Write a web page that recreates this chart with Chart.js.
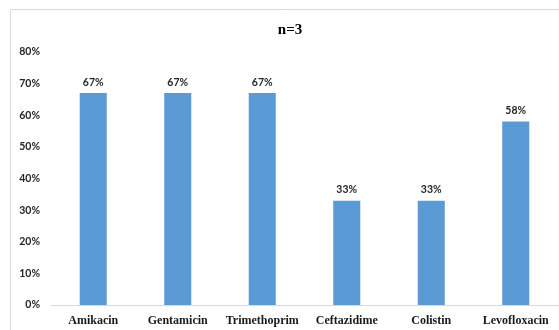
<!DOCTYPE html>
<html>
<head>
<meta charset="utf-8">
<script src="https://cdn.jsdelivr.net/npm/chart.js@4"></script>
<style>
  html, body { margin: 0; padding: 0; background: #fff; }
  #wrap { width: 559px; height: 330px; position: relative; }
</style>
</head>
<body>
<div id="wrap"><canvas id="chart" width="559" height="330"></canvas></div>
<script>
// Antibiotic resistance, n=3
const titleText = 'n=3';
const categories = ['Amikacin', 'Gentamicin', 'Trimethoprim', 'Ceftazidime', 'Colistin', 'Levofloxacin'];
const percentValues = [67, 67, 67, 33, 33, 58];
const yTicks = [0, 10, 20, 30, 40, 50, 60, 70, 80];

// Frame and title drawn on the canvas
const framePlugin = {
  id: 'frame',
  beforeDraw(chart) {
    const ctx = chart.ctx;
    ctx.save();
    ctx.fillStyle = '#ffffff';
    ctx.fillRect(0, 0, chart.width, chart.height);
    ctx.strokeStyle = '#d9d9d9';
    ctx.lineWidth = 1;
    ctx.beginPath();
    ctx.moveTo(10.5, chart.height + 1);
    ctx.lineTo(10.5, 9.5);
    ctx.lineTo(chart.width + 1, 9.5);
    ctx.stroke();
    ctx.fillStyle = '#000000';
    ctx.font = 'bold 15px "Liberation Serif", "Times New Roman", serif';
    ctx.textAlign = 'center';
    ctx.textBaseline = 'middle';
    ctx.fillText(titleText, 290, 30);
    ctx.restore();
  }
};

// Value labels above each bar
const valueLabelPlugin = {
  id: 'valueLabels',
  afterDatasetsDraw(chart) {
    const ctx = chart.ctx;
    const meta = chart.getDatasetMeta(0);
    ctx.save();
    ctx.fillStyle = '#262626';
    ctx.font = 'bold 10.5px Lato, "Open Sans", sans-serif';
    ctx.textAlign = 'center';
    ctx.textBaseline = 'middle';
    meta.data.forEach((bar, i) => {
      ctx.fillText(percentValues[i] + '%', bar.x, bar.y - 11);
    });
    ctx.restore();
  }
};

new Chart(document.getElementById('chart'), {
  type: 'bar',
  data: {
    labels: categories,
    datasets: [{
      data: percentValues,
      backgroundColor: '#5B9BD5',
      borderWidth: 0,
      barPercentage: 0.32,
      categoryPercentage: 1.0
    }]
  },
  options: {
    responsive: false,
    animation: false,
    devicePixelRatio: 1,
    layout: { padding: { left: 10, right: 1, top: 52, bottom: 0 } },
    plugins: {
      legend: { display: false },
      title: { display: false },
      tooltip: { enabled: false }
    },
    scales: {
      x: {
        grid: { display: false, drawTicks: false, tickLength: 0 },
        border: { color: '#d9d9d9', width: 1 },
        ticks: {
          color: '#1a1a1a',
          padding: 9,
          maxRotation: 0,
          autoSkip: false,
          font: { family: '"Liberation Serif", "Times New Roman", serif', weight: 'bold', size: 12 }
        },
        afterFit(scale) { scale.height = 25; }
      },
      y: {
        min: 0,
        max: 80,
        afterBuildTicks(scale) { scale.ticks = yTicks.map(v => ({ value: v })); },
        grid: { display: false, drawTicks: false, tickLength: 0 },
        border: { display: false },
        ticks: {
          color: '#262626',
          padding: 11,
          font: { family: 'Lato, "Open Sans", sans-serif', weight: 'bold', size: 10.5 },
          callback: v => v + '%'
        },
        afterFit(scale) { scale.width = 41; }
      }
    }
  },
  plugins: [framePlugin, valueLabelPlugin]
});
</script>
</body>
</html>
